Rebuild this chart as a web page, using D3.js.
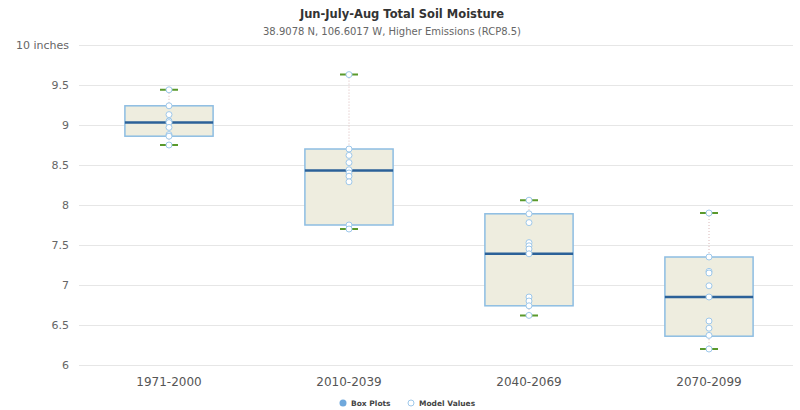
<!DOCTYPE html>
<html>
<head>
<meta charset="utf-8">
<script src="https://cdn.jsdelivr.net/npm/d3@7"></script>
<style>
  body { margin: 0; background: #fff; }
  text { font-family: "DejaVu Sans", sans-serif; }
</style>
</head>
<body>
<svg id="drawing_region"></svg>
<script>
// data
const periods = ['1971-2000', '2010-2039', '2040-2069', '2070-2099'];
const lows    = [8.75, 7.70, 6.62, 6.20];
const q1s     = [8.86, 7.75, 6.74, 6.36];
const medians = [9.03, 8.43, 7.39, 6.85];
const q3s     = [9.24, 8.70, 7.89, 7.35];
const highs   = [9.44, 9.63, 8.06, 7.90];
const modelValues = [
    [9.44, 9.24, 9.13, 9.05, 9.03, 8.97, 8.88, 8.86, 8.75],
    [9.63, 8.70, 8.62, 8.53, 8.44, 8.40, 8.36, 8.29, 7.75, 7.70],
    [8.06, 7.89, 7.78, 7.53, 7.49, 7.45, 7.39, 6.85, 6.80, 6.74, 6.62],
    [7.90, 7.35, 7.17, 7.15, 6.99, 6.85, 6.55, 6.46, 6.37, 6.20]
];
const yTicks = [6, 6.5, 7, 7.5, 8, 8.5, 9, 9.5, 10];

const width = 800;
const height = 410;
const margin = {top: 45, right: 1, bottom: 45, left: 79};

const svg = d3.select('#drawing_region')
    .attr('width', width)
    .attr('height', height);

const inner_width = width - margin.left - margin.right;
const inner_height = height - margin.top - margin.bottom;

const chart = svg.append('g')
    .attr('transform', `translate(${margin.left}, ${margin.top})`);

const xscale = d3.scaleBand()
    .domain(periods)
    .range([0, inner_width]);

const yscale = d3.scaleLinear()
    .domain([6, 10])
    .range([inner_height, 0]);

// titles
svg.append('text')
    .attr('x', 402).attr('y', 18)
    .attr('text-anchor', 'middle')
    .attr('font-size', 11.5).attr('font-weight', 'bold')
    .attr('fill', '#333')
    .text('Jun-July-Aug Total Soil Moisture');

svg.append('text')
    .attr('x', 392).attr('y', 35)
    .attr('text-anchor', 'middle')
    .attr('font-size', 10)
    .attr('fill', '#666')
    .text('38.9078 N, 106.6017 W, Higher Emissions (RCP8.5)');

// grid + y axis
const yaxis = d3.axisLeft(yscale)
    .tickValues(yTicks)
    .tickSize(-(inner_width - 6))
    .tickFormat(d => d === 10 ? '10 inches' : d3.format('')(d));

const yaxis_group = chart.append('g').call(yaxis);
yaxis_group.select('.domain').remove();
yaxis_group.selectAll('line').attr('stroke', '#e6e6e6');
yaxis_group.selectAll('text')
    .attr('x', -10)
    .attr('dy', '0.35em')
    .attr('font-size', 11)
    .attr('fill', '#666')
    .style('font-family', '"DejaVu Sans", sans-serif');

// x axis
const xaxis = d3.axisBottom(xscale).tickSize(0);
const xaxis_group = chart.append('g')
    .attr('transform', `translate(0, ${inner_height})`)
    .call(xaxis);
xaxis_group.select('.domain').remove();
xaxis_group.selectAll('text')
    .attr('y', 12)
    .attr('font-size', 12)
    .attr('fill', '#555')
    .style('font-family', '"DejaVu Sans", sans-serif');

// boxes
const boxes = periods.map((p, i) => ({
    period: p, low: lows[i], q1: q1s[i], median: medians[i], q3: q3s[i], high: highs[i]
}));

const boxW = xscale.bandwidth() * 0.49;
const capW = 18;

const g = chart.selectAll('.box')
    .data(boxes)
    .enter().append('g')
    .attr('transform', d => `translate(${xscale(d.period) + xscale.bandwidth() / 2}, 0)`);

// whisker stems
g.append('line')
    .attr('x1', 0).attr('x2', 0)
    .attr('y1', d => yscale(d.high)).attr('y2', d => yscale(d.q3))
    .attr('stroke', '#d9b8b8').attr('stroke-dasharray', '1,2');
g.append('line')
    .attr('x1', 0).attr('x2', 0)
    .attr('y1', d => yscale(d.q1)).attr('y2', d => yscale(d.low))
    .attr('stroke', '#d9b8b8').attr('stroke-dasharray', '1,2');

// box
g.append('rect')
    .attr('x', -boxW / 2)
    .attr('y', d => yscale(d.q3))
    .attr('width', boxW)
    .attr('height', d => yscale(d.q1) - yscale(d.q3))
    .attr('fill', '#eeeddf')
    .attr('stroke', '#8dbde2')
    .attr('stroke-width', 1.5);

// median
g.append('line')
    .attr('x1', -boxW / 2).attr('x2', boxW / 2)
    .attr('y1', d => yscale(d.median)).attr('y2', d => yscale(d.median))
    .attr('stroke', '#2b6198').attr('stroke-width', 2.5);

// whisker caps (dash - gap - dash)
['high', 'low'].forEach(k => {
    g.append('line')
        .attr('x1', -capW / 2).attr('x2', capW / 2)
        .attr('y1', d => yscale(d[k])).attr('y2', d => yscale(d[k]))
        .attr('stroke', '#5a9a2c').attr('stroke-width', 2)
        .attr('stroke-dasharray', '6,6');
});

// model value points
g.selectAll('circle')
    .data((d, i) => modelValues[i])
    .enter().append('circle')
    .attr('cx', 0)
    .attr('cy', d => yscale(d))
    .attr('r', 3)
    .attr('fill', '#fff')
    .attr('stroke', '#9ec8ea')
    .attr('stroke-width', 1);

// legend
const legend = svg.append('g').attr('transform', 'translate(0, 403)');
legend.append('circle')
    .attr('cx', 343).attr('cy', 0).attr('r', 3.5)
    .attr('fill', '#6fa8dc');
legend.append('text')
    .attr('x', 351).attr('y', 3)
    .attr('font-size', 7.5).attr('font-weight', 'bold').attr('fill', '#444')
    .text('Box Plots');
legend.append('circle')
    .attr('cx', 411).attr('cy', 0).attr('r', 3)
    .attr('fill', '#fff').attr('stroke', '#9ec8ea');
legend.append('text')
    .attr('x', 419).attr('y', 3)
    .attr('font-size', 7.5).attr('font-weight', 'bold').attr('fill', '#444')
    .text('Model Values');
</script>
</body>
</html>
